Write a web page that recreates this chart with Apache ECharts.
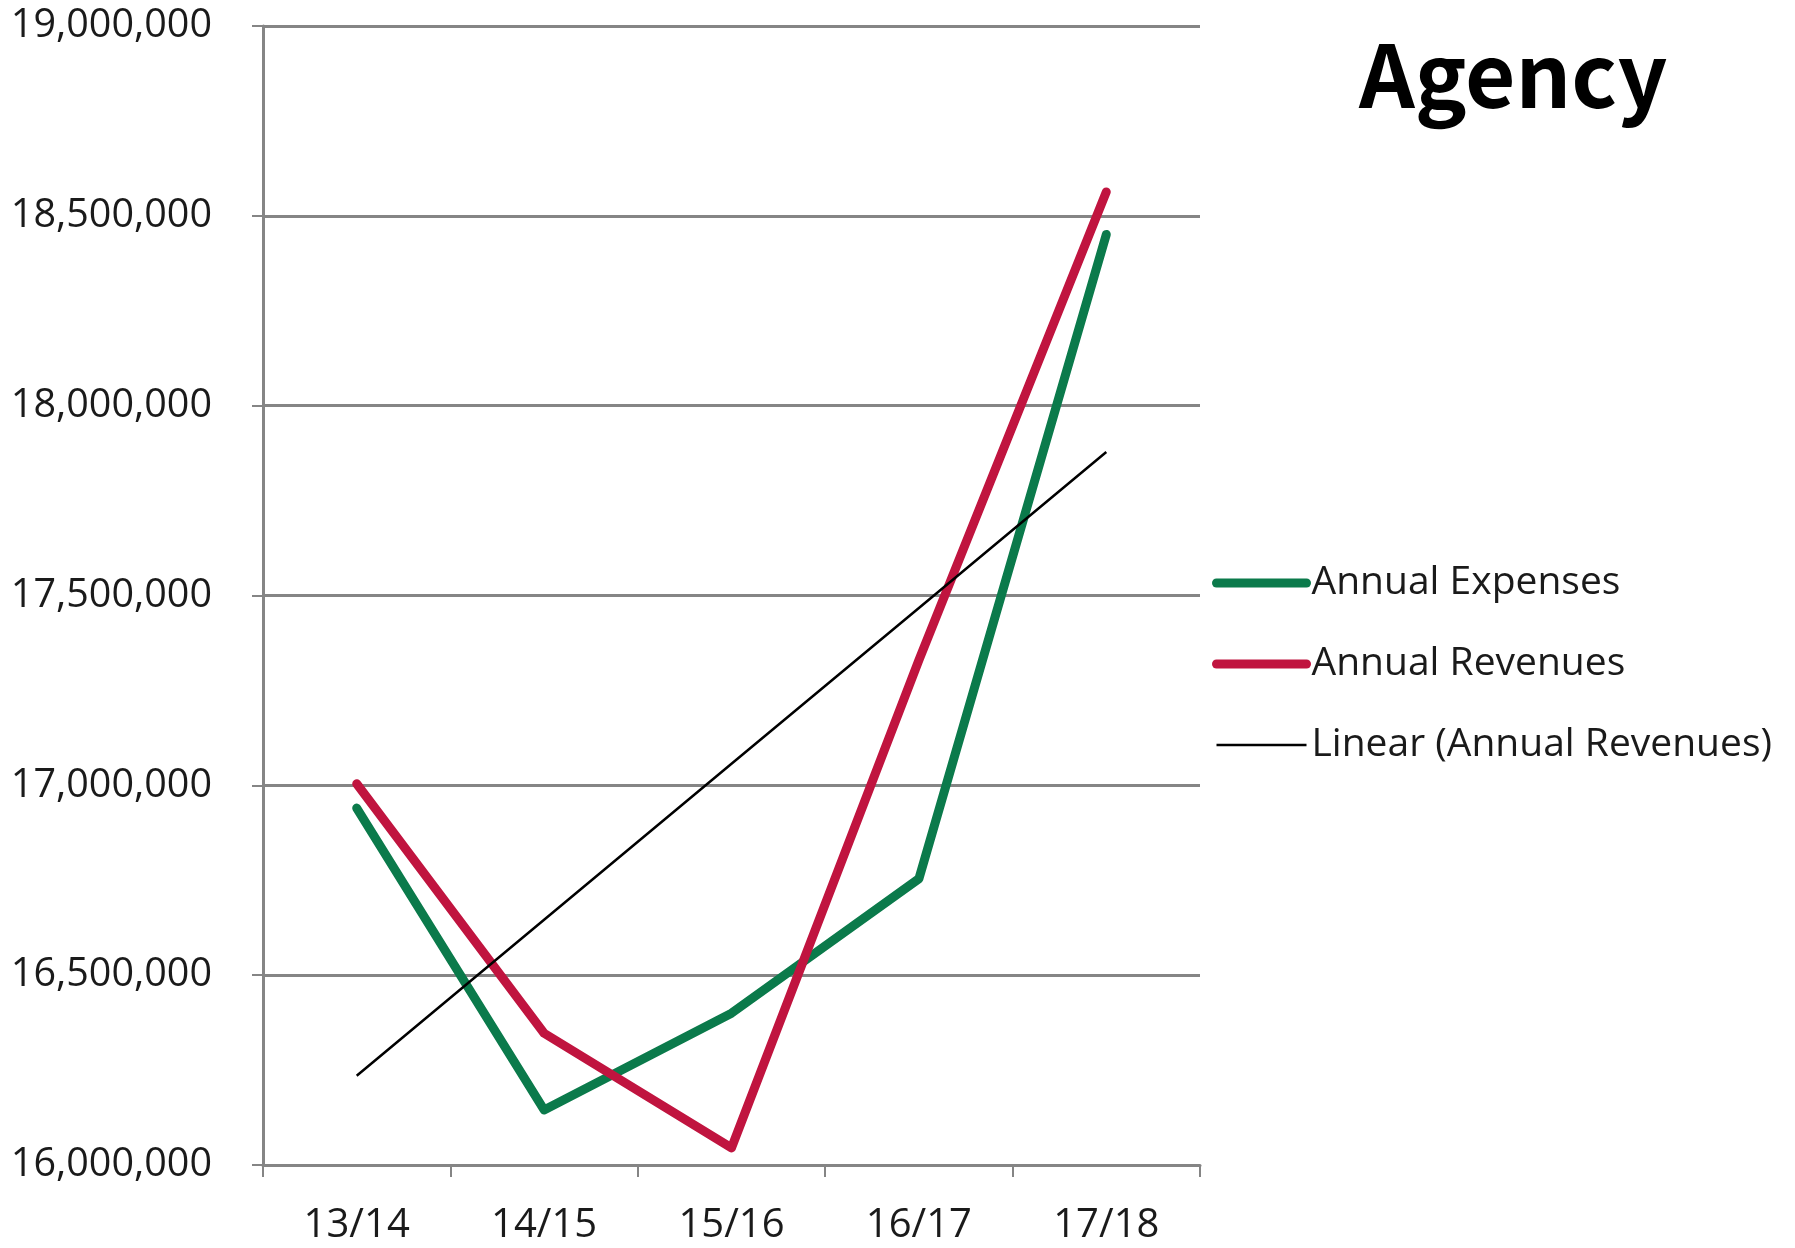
<!DOCTYPE html>
<html>
<head>
<meta charset="utf-8">
<title>Agency</title>
<script src="https://cdn.jsdelivr.net/npm/echarts@6/dist/echarts.min.js"></script>
<style>
  html, body { margin: 0; padding: 0; background: #ffffff; }
  #chart { width: 1795px; height: 1248px; }
</style>
</head>
<body>
<div id="chart"></div>
<script>
// Fiscal years on the category axis
const years = ['13/14', '14/15', '15/16', '16/17', '17/18'];

// Yearly totals
const annualExpenses = [16940000, 16145000, 16400000, 16754000, 18451000];
const annualRevenues = [17004000, 16347000, 16045000, 17330000, 18563000];

// Linear trend of the revenues, one value per year
const linearRevenues = [16235000, 16646000, 17057000, 17467000, 17878000];

// Value axis range and step
const yMin = 16000000;
const yMax = 19000000;
const yStep = 500000;

const fontFamily = '"Open Sans", "Noto Sans", sans-serif';
const gridGray = '#858585';
const expenseColor = '#0b7a4b';
const revenueColor = '#c0143f';

// Legend entries draw only a line (no marker dot)
const hiddenMarker = { color: 'rgba(0,0,0,0)', borderWidth: 0, opacity: 0 };

const chart = echarts.init(document.getElementById('chart'), null, { renderer: 'canvas' });

chart.setOption({
  animation: false,
  backgroundColor: '#ffffff',
  title: {
    text: 'Agency',
    left: 1354,
    top: 26,
    textStyle: {
      fontFamily: '"Noto Sans CJK SC", "Noto Sans", sans-serif',
      fontWeight: 'bold',
      fontSize: 87,
      color: '#000000'
    }
  },
  legend: {
    orient: 'vertical',
    left: 1207,
    top: 558,
    itemWidth: 90,
    itemHeight: 20,
    itemGap: 41,
    selectedMode: false,
    textStyle: {
      fontFamily: fontFamily,
      fontSize: 39,
      lineHeight: 40,
      color: '#1a1a1a'
    },
    data: [
      { name: 'Annual Expenses', itemStyle: hiddenMarker,
        lineStyle: { color: expenseColor, width: 9, cap: 'round' } },
      { name: 'Annual Revenues', itemStyle: hiddenMarker,
        lineStyle: { color: revenueColor, width: 9, cap: 'round' } },
      { name: 'Linear (Annual Revenues)', itemStyle: hiddenMarker,
        lineStyle: { color: '#000000', width: 2.5 } }
    ]
  },
  grid: {
    left: 263,
    right: 595,
    top: 26,
    bottom: 83,
    containLabel: false
  },
  xAxis: {
    type: 'category',
    data: years,
    boundaryGap: true,
    axisLine: { show: true, lineStyle: { color: gridGray, width: 3 } },
    axisTick: { show: true, length: 12, lineStyle: { color: gridGray, width: 2 } },
    axisLabel: {
      margin: 41,
      fontFamily: fontFamily,
      fontSize: 40,
      color: '#1a1a1a'
    },
    splitLine: { show: false }
  },
  yAxis: {
    type: 'value',
    min: yMin,
    max: yMax,
    interval: yStep,
    axisLine: { show: true, lineStyle: { color: gridGray, width: 3 } },
    axisTick: { show: true, length: 11, lineStyle: { color: gridGray, width: 2 } },
    axisLabel: {
      margin: 51,
      fontFamily: fontFamily,
      fontSize: 39.5,
      color: '#1a1a1a',
      formatter: function (v) { return v.toLocaleString('en-US'); }
    },
    splitLine: { show: true, lineStyle: { color: gridGray, width: 3 } }
  },
  series: [
    {
      name: 'Annual Expenses',
      type: 'line',
      data: annualExpenses,
      symbol: 'none',
      z: 3,
      lineStyle: { color: expenseColor, width: 9, cap: 'round', join: 'round' },
      itemStyle: { color: expenseColor }
    },
    {
      name: 'Annual Revenues',
      type: 'line',
      data: annualRevenues,
      symbol: 'none',
      z: 4,
      lineStyle: { color: revenueColor, width: 9, cap: 'round', join: 'round' },
      itemStyle: { color: revenueColor }
    },
    {
      name: 'Linear (Annual Revenues)',
      type: 'line',
      data: linearRevenues,
      symbol: 'none',
      z: 5,
      lineStyle: { color: '#000000', width: 2.5 },
      itemStyle: { color: '#000000' }
    }
  ]
});
</script>
</body>
</html>
